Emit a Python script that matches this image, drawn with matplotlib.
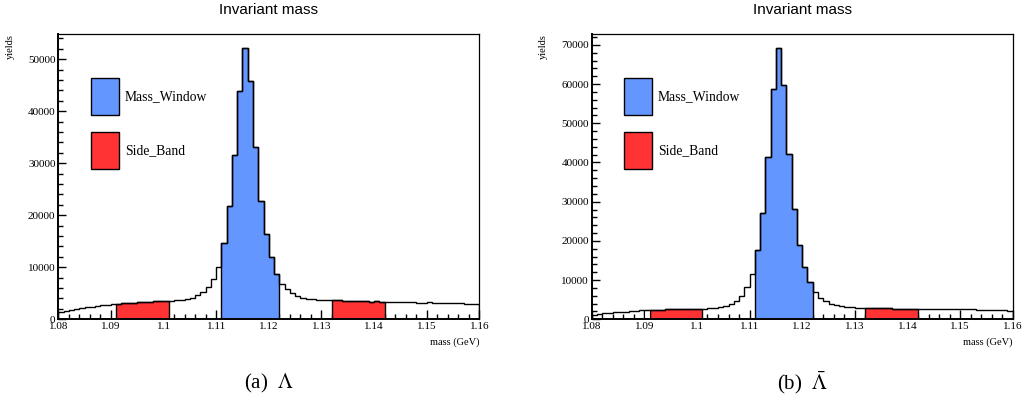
import numpy as np
import matplotlib
matplotlib.use("Agg")
import matplotlib.pyplot as plt
from matplotlib.patches import Patch
from matplotlib.ticker import MultipleLocator, FuncFormatter

plt.rcParams['mathtext.fontset'] = 'stix'

# ---- data -------------------------------------------------------------
mass_lo, mass_hi, n_bins = 1.08, 1.16, 80
window_range = (1.111, 1.122)
sideband_left = (1.091, 1.101)
sideband_right = (1.132, 1.142)

lambda_counts = [
    1400, 1650, 1850, 2000, 2150, 2300, 2450, 2600, 2700, 2800, 2850,
    3000, 3100, 3150, 3150, 3250, 3300, 3400, 3450, 3500, 3550,
    3600, 3650, 3700, 3850, 4150, 4600, 5200, 6150, 7700, 10150,
    14680, 21730, 31540, 43900, 52180, 45770, 33140, 22820, 16350, 11920, 8720,
    6800, 5770, 5000, 4490, 4170, 3970, 3850, 3800, 3750, 3700,
    3700, 3650, 3550, 3550, 3500, 3500, 3450, 3400, 3450, 3400,
    3400, 3350, 3350, 3300, 3300, 3250, 3200, 3100, 3250, 3200,
    3150, 3150, 3100, 3100, 3050, 3000, 2950, 2900,
]

lambdabar_counts = [
    1050, 1300, 1500, 1650, 1750, 1850, 1950, 2050, 2150, 2250, 2300,
    2350, 2400, 2450, 2500, 2500, 2550, 2600, 2600, 2650, 2700,
    2750, 2800, 2950, 3150, 3400, 3900, 4650, 6050, 8150, 11550,
    17750, 27010, 41370, 58620, 69230, 59720, 42220, 28200, 18940, 13420, 9600,
    7050, 5520, 4670, 4000, 3570, 3310, 3140, 3060, 2970, 2890,
    2850, 2850, 2800, 2800, 2800, 2750, 2750, 2750, 2700, 2700,
    2700, 2650, 2650, 2650, 2600, 2600, 2550, 2550, 2550, 2500,
    2500, 2450, 2450, 2400, 2350, 2300, 2250, 2200,
]

titles = ["Invariant mass", "Invariant mass"]
captions = [r"(a)  $\Lambda$", r"(b)  $\bar{\Lambda}$"]
legend_labels = ["Mass_Window", "Side_Band"]

BLUE = "#6396FF"
RED = "#FF3333"

edges = np.round(np.linspace(mass_lo, mass_hi, n_bins + 1), 4)


def idx(lo, hi):
    i0 = int(np.argmin(np.abs(edges - lo)))
    i1 = int(np.argmin(np.abs(edges - hi)))
    return i0, i1


W = 1022.0
H = 400.0
fig = plt.figure(figsize=(W / 100, H / 100), dpi=100)

ax_px = [(58.3, 34.3, 421.0, 285.0), (591.7, 34.3, 421.0, 285.0)]
cap_x = [269.0, 802.5]

for k, counts in enumerate([lambda_counts, lambdabar_counts]):
    counts = np.asarray(counts, dtype=float)
    x0, y0, w, h = ax_px[k]
    ax = fig.add_axes([x0 / W, 1 - (y0 + h) / H, w / W, h / H])

    # fills
    i0, i1 = idx(*window_range)
    ax.stairs(counts[i0:i1], edges[i0:i1 + 1], fill=True, facecolor=BLUE,
              edgecolor="black", lw=1.0, zorder=2)
    for sb in (sideband_left, sideband_right):
        j0, j1 = idx(*sb)
        ax.stairs(counts[j0:j1], edges[j0:j1 + 1], fill=True, facecolor=RED,
                  edgecolor="black", lw=1.0, zorder=2)
    if k == 1:
        j0, _ = idx(*sideband_left)
        ax.stairs(counts[j0 - 1:j0], edges[j0 - 1:j0 + 1], fill=True,
                  facecolor="white", edgecolor="black", lw=0.8, zorder=2)

    # outline
    ax.stairs(counts, edges, color="black", lw=1.0, zorder=3)

    ax.set_xlim(mass_lo, mass_hi)
    ax.set_ylim(0, counts.max() * 1.05)

    ax.xaxis.set_major_locator(MultipleLocator(0.01))
    ax.xaxis.set_minor_locator(MultipleLocator(0.002))
    ax.yaxis.set_major_locator(MultipleLocator(10000))
    ax.yaxis.set_minor_locator(MultipleLocator(2000))
    ax.xaxis.set_major_formatter(FuncFormatter(lambda v, p: f"{v:.2f}".rstrip("0")))
    ax.yaxis.set_major_formatter(FuncFormatter(lambda v, p: f"{int(round(v))}"))

    ax.tick_params(which="both", direction="in", top=False, right=False,
                   labelsize=8.0, color="black")
    ax.tick_params(axis="x", which="major", length=6.5, width=1.0, pad=2)
    ax.tick_params(axis="x", which="minor", length=3.5, width=1.0)
    ax.tick_params(axis="y", which="major", length=6, width=1.0, pad=2)
    ax.tick_params(axis="y", which="minor", length=3.5, width=1.0)
    for lab in ax.get_xticklabels() + ax.get_yticklabels():
        lab.set_fontfamily("Liberation Serif")

    for s in ("bottom", "left"):
        ax.spines[s].set_linewidth(1.4)
    for s in ("top", "right"):
        ax.spines[s].set_linewidth(0.9)

    ax.set_xlabel("mass (GeV)", family="Liberation Serif", fontsize=7.5, loc="right")
    ax.xaxis.set_label_coords(1.0, -0.062)
    ax.set_ylabel("yields", family="Liberation Serif", fontsize=7.5, loc="top")
    ax.yaxis.set_label_coords(-0.103, 1.0)

    handles = [Patch(facecolor=BLUE, edgecolor="black", lw=1.0),
               Patch(facecolor=RED, edgecolor="black", lw=1.0)]
    ax.legend(handles, legend_labels, loc="upper left",
              bbox_to_anchor=(32.4 / w, 1 - 44.0 / h),
              frameon=False, borderpad=0, borderaxespad=0,
              handlelength=2.05, handleheight=3.8, handletextpad=0.45,
              labelspacing=1.2, prop={"family": "Liberation Serif", "size": 9.8})

    fig.text((x0 + w / 2) / W, 1 - 10.5 / H, titles[k], ha="center", va="center",
             family="Liberation Sans", fontsize=11)
    fig.text(cap_x[k] / W, 1 - 383 / H, captions[k], ha="center", va="center",
             family="Liberation Serif", fontsize=15)

fig.savefig("out.png", dpi=100)
